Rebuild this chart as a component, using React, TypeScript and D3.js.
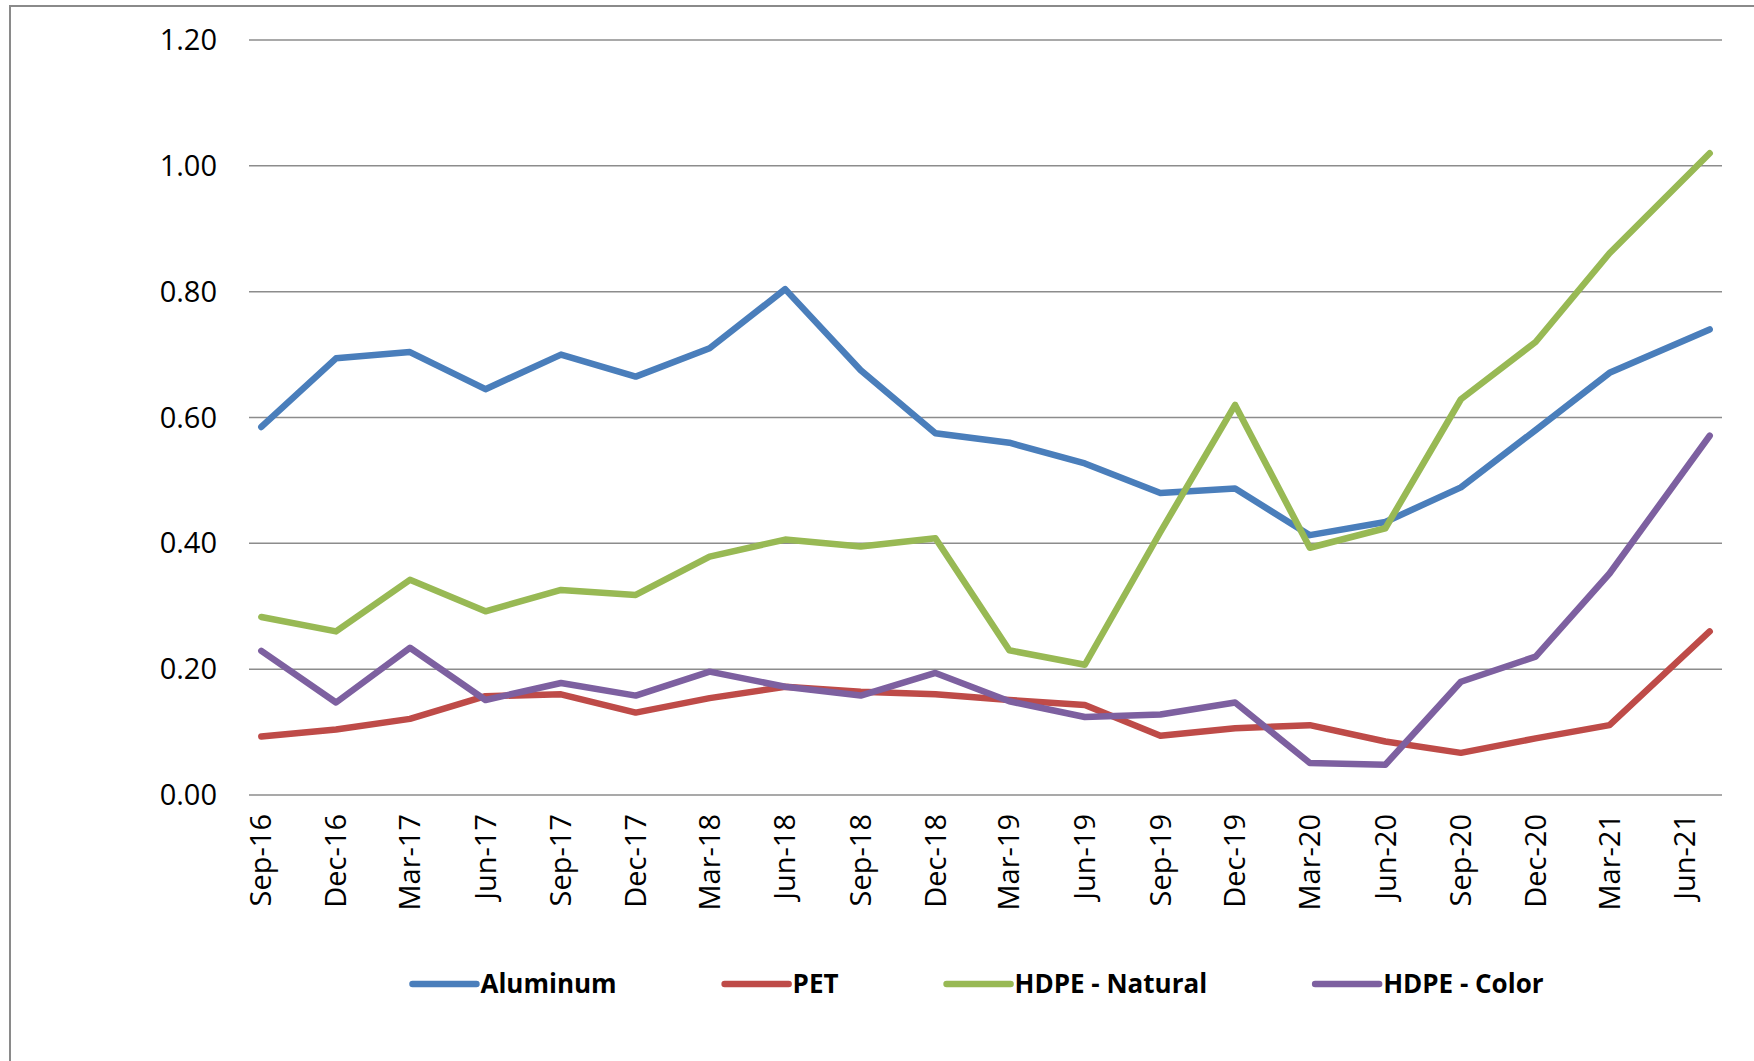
import { useEffect, useRef } from "react";
import * as d3 from "d3";

// quarterly sample dates (last reading is July 2021)
const dates = [
  "2016-09", "2016-12", "2017-03", "2017-06", "2017-09", "2017-12", "2018-03",
  "2018-06", "2018-09", "2018-12", "2019-03", "2019-06", "2019-09", "2019-12",
  "2020-03", "2020-06", "2020-09", "2020-12", "2021-03", "2021-07",
];

const tickLabels = [
  "Sep-16", "Dec-16", "Mar-17", "Jun-17", "Sep-17", "Dec-17", "Mar-18",
  "Jun-18", "Sep-18", "Dec-18", "Mar-19", "Jun-19", "Sep-19", "Dec-19",
  "Mar-20", "Jun-20", "Sep-20", "Dec-20", "Mar-21", "Jun-21",
];

const yTicks = [0, 0.2, 0.4, 0.6, 0.8, 1.0, 1.2];

const aluminum = [
  0.585, 0.694, 0.704, 0.645, 0.700, 0.665, 0.710, 0.804, 0.675, 0.575,
  0.560, 0.527, 0.480, 0.487, 0.413, 0.434, 0.489, 0.580, 0.671, 0.740,
];
const pet = [
  0.093, 0.104, 0.121, 0.157, 0.160, 0.131, 0.154, 0.172, 0.164, 0.160,
  0.151, 0.143, 0.094, 0.106, 0.111, 0.085, 0.067, 0.090, 0.111, 0.260,
];
const hdpeNatural = [
  0.283, 0.260, 0.342, 0.292, 0.326, 0.318, 0.379, 0.406, 0.395, 0.408,
  0.230, 0.207, 0.418, 0.620, 0.393, 0.424, 0.629, 0.720, 0.861, 1.020,
];
const hdpeColor = [
  0.229, 0.147, 0.234, 0.151, 0.178, 0.158, 0.196, 0.172, 0.158, 0.194,
  0.149, 0.124, 0.128, 0.147, 0.051, 0.048, 0.180, 0.220, 0.352, 0.571,
];

const seriesNames = ["Aluminum", "PET", "HDPE - Natural", "HDPE - Color"];
const seriesColors = ["#4A7EBB", "#BE4B48", "#98B954", "#7D60A0"];

export default function App() {
  const svgRef = useRef<SVGSVGElement | null>(null);

  useEffect(() => {
    if (!svgRef.current) return;
    const svg = d3.select(svgRef.current);
    svg.selectAll("*").remove();

    const W = 1754;
    const H = 1061;
    const left = 249, right = 1722, top = 40, bottom = 795;

    const parseMonth = d3.utcParse("%Y-%m");
    const parseTick = d3.utcParse("%b-%y");
    const pts = dates.map((d) => parseMonth(d) as Date);

    // date axis with half a month of padding on each side
    const x = d3.scaleUtc()
      .domain([d3.utcDay.offset(pts[0], -15), d3.utcDay.offset(pts[pts.length - 1], 15)])
      .range([left, right]);
    const y = d3.scaleLinear().domain([0, 1.2]).range([bottom, top]);

    // frame
    svg.append("rect")
      .attr("x", 10).attr("y", 6)
      .attr("width", W).attr("height", H)
      .attr("fill", "none")
      .attr("stroke", "#8a8a8a")
      .attr("stroke-width", 2);

    // gridlines
    svg.append("g")
      .selectAll("line")
      .data(yTicks)
      .join("line")
      .attr("x1", left).attr("x2", right)
      .attr("y1", (d) => y(d)).attr("y2", (d) => y(d))
      .attr("stroke", "#8c8c8c")
      .attr("stroke-width", 1.5);

    // y labels
    svg.append("g")
      .selectAll("text")
      .data(yTicks)
      .join("text")
      .attr("x", 217)
      .attr("y", (d) => y(d))
      .attr("dy", "0.35em")
      .attr("text-anchor", "end")
      .attr("font-size", 29)
      .attr("fill", "#000")
      .text((d) => d3.format(".2f")(d));

    // x labels, rotated
    svg.append("g")
      .selectAll("text")
      .data(tickLabels)
      .join("text")
      .attr("transform", (d) => `translate(${x(parseTick(d) as Date)},814) rotate(-90)`)
      .attr("dy", "0.35em")
      .attr("text-anchor", "end")
      .attr("font-size", 29)
      .attr("fill", "#000")
      .text((d) => d);

    // series lines
    const allSeries = [aluminum, pet, hdpeNatural, hdpeColor];
    const line = d3.line<number>()
      .x((d, i) => x(pts[i]))
      .y((d) => y(d));

    allSeries.forEach((vals, k) => {
      svg.append("path")
        .datum(vals)
        .attr("fill", "none")
        .attr("stroke", seriesColors[k])
        .attr("stroke-width", 6.5)
        .attr("stroke-linejoin", "round")
        .attr("stroke-linecap", "round")
        .attr("d", line);
    });

    // legend
    const legendY = 984;
    const swatch = 64;
    const gap = 108;
    const lg = svg.append("g");
    const items = seriesNames.map((name, k) => {
      const g = lg.append("g");
      g.append("line")
        .attr("x1", 0).attr("x2", swatch)
        .attr("y1", legendY).attr("y2", legendY)
        .attr("stroke", seriesColors[k])
        .attr("stroke-width", 6.5)
        .attr("stroke-linecap", "round");
      const t = g.append("text")
        .attr("x", swatch + 4)
        .attr("y", legendY)
        .attr("dy", "0.35em")
        .attr("font-size", 26)
        .attr("font-weight", "bold")
        .attr("fill", "#000")
        .text(name);
      const w = swatch + 4 + (t.node() as SVGTextElement).getComputedTextLength();
      return { g, w };
    });
    const total = d3.sum(items, (d) => d.w) + gap * (items.length - 1);
    let cx = 978 - total / 2;
    items.forEach((it) => {
      it.g.attr("transform", `translate(${cx},0)`);
      cx += it.w + gap;
    });
  }, []);

  return (
    <>
      <style>{`body{margin:0;background:#fff}`}</style>
      <svg
        ref={svgRef}
        width={1754}
        height={1061}
        style={{ display: "block", fontFamily: "'Open Sans', sans-serif" }}
      />
    </>
  );
}
